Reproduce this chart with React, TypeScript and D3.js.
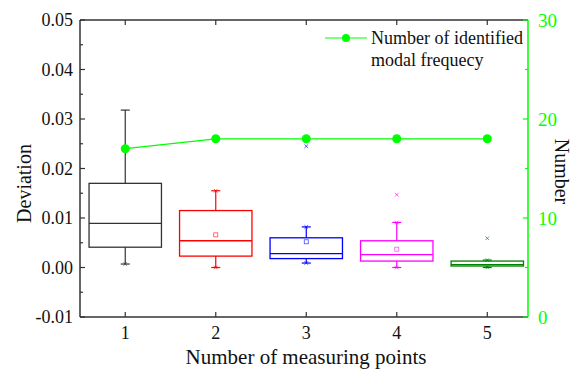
import React, { useEffect, useRef } from 'react';
import * as d3 from 'd3';

// box statistics per number of measuring points
const categories = [1, 2, 3, 4, 5];
const boxColors = ['#333333', '#ff0000', '#0000ff', '#ff00ff', '#008000'];
const q1 = [0.0041, 0.0023, 0.0018, 0.0013, 0.0003];
const medians = [0.0089, 0.0054, 0.0028, 0.0026, 0.0006];
const q3 = [0.0170, 0.0115, 0.0060, 0.0054, 0.0013];
const whiskerLow = [0.0007, 0.0000, 0.0009, 0.0000, 0.0000];
const whiskerHigh = [0.0318, 0.0155, 0.0082, 0.0091, 0.0015];
const means = [null, 0.0066, 0.0052, 0.0037, null];
const outliers = [null, null, 0.0245, 0.0147, 0.0059];

// identified modal frequencies (right axis)
const modalCounts = [17, 18, 18, 18, 18];

const leftTicks = [-0.01, 0.0, 0.01, 0.02, 0.03, 0.04, 0.05];
const rightTicks = [0, 10, 20, 30];

const App = () => {
  const svgRef = useRef(null);

  useEffect(() => {
    const svg = d3.select(svgRef.current);
    svg.selectAll('*').remove();

    const margin = { top: 20, right: 50, bottom: 53, left: 80 };
    const width = 578;
    const height = 370;
    const w = width - margin.left - margin.right;
    const h = height - margin.top - margin.bottom;
    const axisColor = '#333333';
    const green = '#00ff00';

    const x = d3.scaleLinear().domain([0.5, 5.45]).range([0, w]);
    const y = d3.scaleLinear().domain([-0.01, 0.05]).range([h, 0]);
    const yR = d3.scaleLinear().domain([0, 30]).range([h, 0]);

    const g = svg.append('g').attr('transform', `translate(${margin.left},${margin.top})`)
      .style('font-family', "'Liberation Serif', 'DejaVu Serif', serif");

    // frame lines
    g.append('line').attr('x1', 0).attr('x2', w).attr('y1', 0).attr('y2', 0)
      .attr('stroke', axisColor).attr('stroke-width', 1.5);
    g.append('line').attr('x1', 0).attr('x2', w).attr('y1', h).attr('y2', h)
      .attr('stroke', axisColor).attr('stroke-width', 1.5);
    g.append('line').attr('x1', 0).attr('x2', 0).attr('y1', 0).attr('y2', h)
      .attr('stroke', axisColor).attr('stroke-width', 1.5);
    g.append('line').attr('x1', w).attr('x2', w).attr('y1', 0).attr('y2', h)
      .attr('stroke', green).attr('stroke-width', 1.5);

    // left axis ticks (inward) + minor
    const leftMinor = d3.range(-0.005, 0.05, 0.01);
    leftTicks.forEach(t => {
      g.append('line').attr('x1', 0).attr('x2', 5).attr('y1', y(t)).attr('y2', y(t))
        .attr('stroke', axisColor).attr('stroke-width', 1.2);
      g.append('text').attr('x', -7).attr('y', y(t)).attr('dy', '0.35em')
        .attr('text-anchor', 'end').attr('font-size', 18)
        .attr('fill', '#111').text(t.toFixed(2));
    });
    leftMinor.forEach(t => {
      g.append('line').attr('x1', 0).attr('x2', 3).attr('y1', y(t)).attr('y2', y(t))
        .attr('stroke', axisColor).attr('stroke-width', 1.2);
    });

    // right axis ticks (inward) + minor
    rightTicks.forEach(t => {
      g.append('line').attr('x1', w - 5).attr('x2', w).attr('y1', yR(t)).attr('y2', yR(t))
        .attr('stroke', green).attr('stroke-width', 1.2);
      g.append('text').attr('x', w + 10).attr('y', yR(t)).attr('dy', '0.35em')
        .attr('font-size', 19).attr('fill', green).text(t);
    });
    [5, 15, 25].forEach(t => {
      g.append('line').attr('x1', w - 3).attr('x2', w).attr('y1', yR(t)).attr('y2', yR(t))
        .attr('stroke', green).attr('stroke-width', 1.2);
    });

    // bottom + top ticks
    categories.forEach(c => {
      g.append('line').attr('x1', x(c)).attr('x2', x(c)).attr('y1', h).attr('y2', h - 5)
        .attr('stroke', axisColor).attr('stroke-width', 1.2);
      g.append('line').attr('x1', x(c)).attr('x2', x(c)).attr('y1', 0).attr('y2', 5)
        .attr('stroke', axisColor).attr('stroke-width', 1.2);
      g.append('text').attr('x', x(c)).attr('y', h + 16).attr('dy', '0.35em')
        .attr('text-anchor', 'middle').attr('font-size', 18)
        .attr('fill', '#111').text(c);
    });

    // axis titles
    g.append('text').attr('x', w / 2 + 2).attr('y', h + 47)
      .attr('text-anchor', 'middle').attr('font-size', 21)
      .attr('fill', '#111').text('Number of measuring points');
    g.append('text').attr('transform', `translate(${24 - margin.left},${h / 2 + 15}) rotate(-90)`)
      .attr('dy', '0.35em').attr('text-anchor', 'middle')
      .attr('font-size', 20).attr('fill', '#111').text('Deviation');
    g.append('text').attr('transform', `translate(${w + 34},${h / 2 + 3}) rotate(90)`)
      .attr('dy', '0.35em').attr('text-anchor', 'middle')
      .attr('font-size', 20).attr('fill', '#111').text('Number');

    // boxes
    const boxW = x(1.8) - x(1);
    const capW = 9;
    const cross = (cx, cy, color) => {
      const s = 1.8;
      g.append('path').attr('d', `M${cx - s},${cy - s}L${cx + s},${cy + s}M${cx - s},${cy + s}L${cx + s},${cy - s}`)
        .attr('stroke', color).attr('stroke-width', 0.8).attr('fill', 'none').attr('opacity', 0.8);
    };
    categories.forEach((c, i) => {
      const color = boxColors[i];
      const cx = x(c);
      // whiskers
      g.append('line').attr('x1', cx).attr('x2', cx).attr('y1', y(q3[i])).attr('y2', y(whiskerHigh[i]))
        .attr('stroke', color).attr('stroke-width', 1.2);
      g.append('line').attr('x1', cx).attr('x2', cx).attr('y1', y(q1[i])).attr('y2', y(whiskerLow[i]))
        .attr('stroke', color).attr('stroke-width', 1.2);
      [whiskerHigh[i], whiskerLow[i]].forEach((v, k) => {
        g.append('line').attr('x1', cx - capW / 2).attr('x2', cx + capW / 2).attr('y1', y(v)).attr('y2', y(v))
          .attr('stroke', color).attr('stroke-width', 1.2);
        if (!(i === 0 && k === 0)) cross(cx, y(v), color);
      });
      g.append('rect').attr('x', cx - boxW / 2).attr('y', y(q3[i]))
        .attr('width', boxW).attr('height', y(q1[i]) - y(q3[i]))
        .attr('fill', 'none').attr('stroke', color).attr('stroke-width', 1.3);
      g.append('line').attr('x1', cx - boxW / 2).attr('x2', cx + boxW / 2)
        .attr('y1', y(medians[i])).attr('y2', y(medians[i]))
        .attr('stroke', color).attr('stroke-width', 1.3);
      if (means[i] !== null) {
        g.append('rect').attr('x', cx - 2).attr('y', y(means[i]) - 2).attr('width', 4).attr('height', 4)
          .attr('fill', 'none').attr('stroke', color).attr('stroke-width', 0.8).attr('opacity', 0.7);
      }
      if (outliers[i] !== null) cross(cx, y(outliers[i]), color);
    });

    // modal frequency line
    const line = d3.line().x((d, i) => x(categories[i])).y(d => yR(d));
    g.append('path').datum(modalCounts).attr('d', line)
      .attr('fill', 'none').attr('stroke', green).attr('stroke-width', 1.2);
    g.selectAll('circle.pt').data(modalCounts).enter().append('circle')
      .attr('class', 'pt').attr('cx', (d, i) => x(categories[i])).attr('cy', d => yR(d))
      .attr('r', 4.5).attr('fill', green);

    // legend
    const lx = 245;
    const ly = 18;
    g.append('line').attr('x1', lx).attr('x2', lx + 42).attr('y1', ly).attr('y2', ly)
      .attr('stroke', green).attr('stroke-width', 1.2);
    g.append('circle').attr('cx', lx + 21).attr('cy', ly).attr('r', 4).attr('fill', green);
    g.append('text').attr('x', lx + 46).attr('y', ly).attr('dy', '0.35em')
      .attr('font-size', 18).attr('fill', '#111')
      .text('Number of identified');
    g.append('text').attr('x', lx + 46).attr('y', ly + 22).attr('dy', '0.35em')
      .attr('font-size', 18).attr('fill', '#111')
      .text('modal frequecy');
  }, []);

  return (
    <svg ref={svgRef} width={578} height={370}
      style={{ position: 'absolute', left: 0, top: 0, background: '#fff' }} />
  );
};

export default App;
